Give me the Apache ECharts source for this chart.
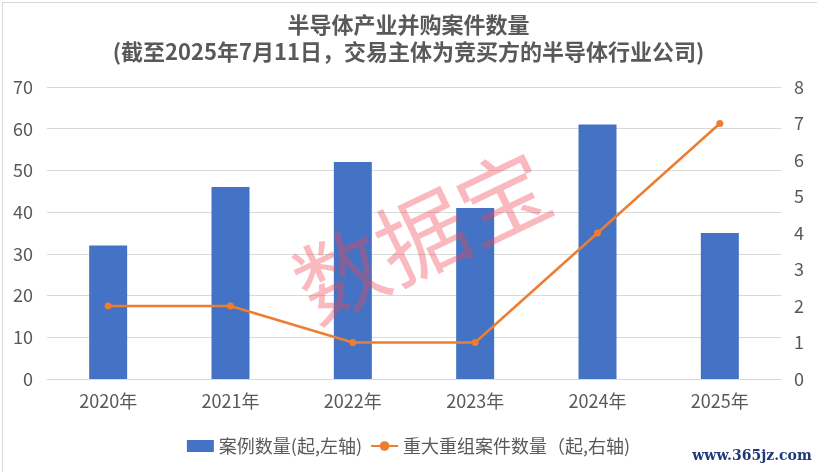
<!DOCTYPE html>
<html>
<head>
<meta charset="utf-8">
<script src="https://cdn.jsdelivr.net/npm/echarts@6/dist/echarts.min.js"></script>
<style>
html,body{margin:0;padding:0;background:#fff;}
#c{width:817px;height:472px;}
</style>
</head>
<body>
<div id="c"></div>
<script>
var categories = ['2020年','2021年','2022年','2023年','2024年','2025年'];
var caseCounts = [32, 46, 52, 41, 61, 35];
var majorCounts = [2, 2, 1, 1, 4, 7];
var leftTicks = {min: 0, max: 70, interval: 10};
var rightTicks = {min: 0, max: 8, interval: 1};
var titleText = '半导体产业并购案件数量\n(截至2025年7月11日，交易主体为竞买方的半导体行业公司)';
var seriesNames = ['案例数量(起,左轴)', '重大重组案件数量（起,右轴)'];

var FONT = '"Noto Sans CJK SC", "Noto Sans", sans-serif';
var chart = echarts.init(document.getElementById('c'));
chart.setOption({
  backgroundColor: '#fff',
  animation: false,
  textStyle: {fontFamily: FONT},
  title: {
    text: titleText,
    left: 'center',
    top: 6,
    textStyle: {fontSize: 22, fontWeight: 'bold', color: '#595959', lineHeight: 27, fontFamily: FONT}
  },
  legend: {
    bottom: 12,
    left: 'center',
    itemWidth: 27,
    itemHeight: 12,
    itemGap: 8,
    textStyle: {fontSize: 18, color: '#595959', fontFamily: FONT},
    data: [
      {name: seriesNames[0], icon: 'rect'},
      {name: seriesNames[1]}
    ]
  },
  grid: {left: 47, right: 36, top: 87, bottom: 93, containLabel: false},
  xAxis: {
    type: 'category',
    data: categories,
    boundaryGap: true,
    axisLine: {show: true, lineStyle: {color: '#d9d9d9', width: 1}},
    axisTick: {show: false},
    axisLabel: {fontSize: 18, color: '#595959', margin: 13}
  },
  yAxis: [
    {
      type: 'value',
      min: leftTicks.min, max: leftTicks.max, interval: leftTicks.interval,
      axisLine: {show: false},
      axisTick: {show: false},
      axisLabel: {fontSize: 18, color: '#595959', margin: 14},
      splitLine: {lineStyle: {color: '#d9d9d9', width: 1}}
    },
    {
      type: 'value',
      min: rightTicks.min, max: rightTicks.max, interval: rightTicks.interval,
      axisLine: {show: false},
      axisTick: {show: false},
      axisLabel: {fontSize: 18, color: '#595959', margin: 13},
      splitLine: {show: false}
    }
  ],
  series: [
    {
      name: seriesNames[0],
      type: 'bar',
      yAxisIndex: 0,
      data: caseCounts,
      barWidth: 38,
      itemStyle: {color: '#4472C4'}
    },
    {
      name: seriesNames[1],
      type: 'line',
      yAxisIndex: 1,
      data: majorCounts,
      symbol: 'circle',
      symbolSize: 7,
      lineStyle: {color: '#ED7D31', width: 2.5},
      itemStyle: {color: '#ED7D31'}
    }
  ],
  graphic: [
    {
      type: 'rect',
      left: 0, top: 0, z: -10, silent: true,
      shape: {x: 0.5, y: 0.5, width: 815, height: 470},
      style: {fill: 'none', stroke: '#d9d9d9', lineWidth: 1}
    },
    {
      type: 'text',
      x: 422, y: 236,
      rotation: 25.6 * Math.PI / 180,
      z: 100, silent: true,
      style: {
        text: '数据宝',
        fontSize: 90,
        fontFamily: FONT,
        fill: 'rgba(238, 70, 85, 0.38)',
        align: 'center',
        verticalAlign: 'middle'
      }
    },
    {
      type: 'text',
      x: 752, y: 456, z: 100, silent: true,
      style: {
        text: 'www.365jz.com',
        fontSize: 14,
        fontWeight: 'bold',
        fontFamily: '"DejaVu Serif", serif',
        fill: '#1F3A78',
        align: 'center',
        verticalAlign: 'middle'
      }
    }
  ]
});
</script>
</body>
</html>
